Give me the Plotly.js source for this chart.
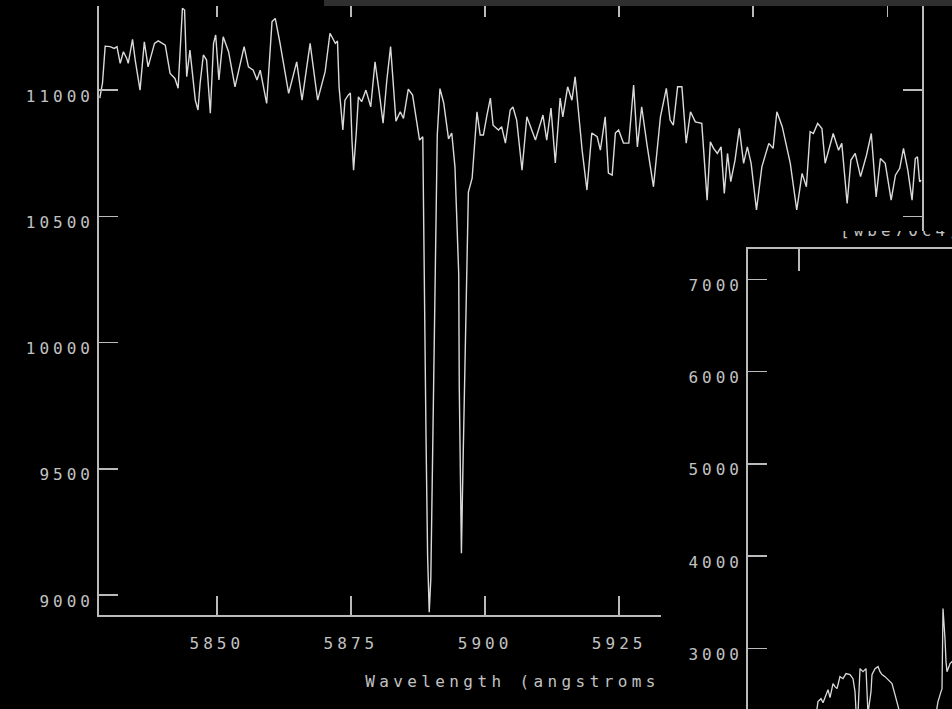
<!DOCTYPE html>
<html>
<head>
<meta charset="utf-8">
<script src="https://cdn.plot.ly/plotly-3.0.1.min.js"></script>
<style>
  html, body { margin:0; padding:0; background:#000; width:952px; height:709px; overflow:hidden; }
  #main { position:absolute; left:0; top:0; width:952px; height:709px; z-index:1; }
  #bar { position:absolute; left:324px; top:0; width:628px; height:6px; background:#2f2f2f; z-index:5; }
  #insetWin { position:absolute; left:661px; top:231px; width:291px; height:478px; overflow:hidden; background:#000; z-index:4; }
  #inset { position:absolute; left:0; top:0; width:697px; height:714px; }
  svg text { letter-spacing:4px; }
  .g-xtitle text { letter-spacing:4.4px; }
  #main .g-xtitle { transform: translate(9px, 0px); }
</style>
</head>
<body>
<div id="main"></div>
<div id="bar"></div>
<div id="insetWin"><div id="inset"></div></div>
<script>
// ---- main spectrum (Na D region) ----
const wavelength = [
5828.2,5828.7,5829.2,5830.1,5830.9,5831.4,5832.0,5832.6,5833.2,5833.5,5834.3,5834.8,5835.7,5836.5,5837.2,5838.4,
5839.1,5840.4,5841.3,5842.2,5842.8,5843.6,5844.0,5844.4,5845.0,5845.5,5846.0,5846.5,5846.9,5847.5,5848.1,5848.8,
5849.4,5849.8,5850.4,5851.2,5852.2,5853.4,5855.1,5855.9,5856.8,5857.5,5858.1,5859.3,5860.3,5860.9,5861.8,5863.4,
5864.9,5865.9,5867.4,5868.8,5870.2,5871.1,5872.1,5872.5,5872.8,5873.5,5873.9,5874.5,5874.9,5875.2,5875.5,5876.0,
5876.4,5877.0,5877.8,5878.7,5879.5,5880.3,5881.0,5881.7,5882.4,5883.4,5884.2,5884.8,5885.7,5886.5,5887.8,5888.4,
5888.5,5888.7,5889.0,5889.3,5889.6,5889.9,5890.4,5890.7,5891.1,5891.6,5892.3,5893.2,5893.8,5894.4,5895.1,5895.2,
5895.5,5895.6,5895.9,5896.5,5896.9,5897.6,5898.5,5899.1,5899.7,5900.3,5901.0,5901.5,5902.5,5903.1,5903.8,5904.7,
5905.2,5905.9,5906.9,5907.8,5909.4,5910.8,5911.5,5912.3,5913.1,5914.0,5914.5,5915.4,5916.2,5916.8,5917.2,5918.1,
5919.0,5919.9,5920.9,5921.5,5922.4,5923.0,5923.7,5924.3,5924.9,5925.8,5926.8,5927.7,5928.4,5929.2,5930.2,5931.4,
5932.7,5933.8,5934.5,5935.1,5935.9,5936.7,5937.5,5938.3,5939.2,5940.4,5941.4,5942.0,5942.6,5943.3,5944.0,5944.6,
5945.2,5945.8,5946.6,5947.4,5948.2,5948.9,5949.6,5950.6,5951.6,5952.9,5953.7,5954.4,5955.4,5956.9,5958.1,5959.1,
5959.9,5960.6,5961.2,5962.0,5962.8,5963.4,5964.9,5965.9,5966.5,5967.5,5968.2,5969.0,5970.0,5971.1,5972.0,5972.9,
5973.7,5974.6,5975.7,5976.5,5977.3,5978.0,5978.8,5979.6,5980.2,5980.6,5981.0,5981.3
];
const flux = [
10968,11028,11174,11172,11165,11172,11106,11152,11126,11106,11201,11119,11000,11191,11092,11185,
11195,11178,11066,11046,11007,11324,11317,11053,11158,11059,10960,10921,11027,11139,11119,10908,
11185,11218,11040,11211,11152,11013,11172,11092,11079,11040,11079,10947,11271,11284,11185,10987,
11112,10960,11185,10960,11073,11225,11185,11194,11012,10842,10960,10980,10988,10802,10683,10830,
10973,10954,11000,10934,11112,10988,10869,11040,11172,10877,10914,10888,11004,10980,10802,10815,
10581,10101,9633,9154,8932,9067,9776,10243,10822,11006,10949,10807,10830,10695,10271,9831,
9393,9166,9520,10185,10596,10651,10914,10822,10822,10894,10968,10861,10842,10855,10790,10921,
10933,10881,10683,10894,10802,10901,10802,10929,10711,10968,10894,11013,10960,11053,10960,10762,
10604,10830,10815,10762,10894,10671,10663,10830,10842,10790,10790,11020,10775,10934,10782,10617,
10894,11007,10881,10861,11013,11013,10790,10914,10874,10868,10564,10795,10769,10749,10775,10591,
10749,10637,10723,10848,10710,10775,10710,10525,10696,10789,10769,10914,10855,10710,10525,10670,
10617,10835,10828,10868,10848,10710,10828,10762,10789,10551,10723,10749,10657,10742,10828,10577,
10729,10710,10564,10663,10690,10769,10683,10564,10729,10736,10637,10643
];
const xTicks = [5850, 5875, 5900, 5925, 5950, 5975];
const yTicks = [9000, 9500, 10000, 10500, 11000];
const xTitle = 'Wavelength (angstroms)';

// ---- inset window spectrum ----
const insetWavelength = [
3807.8,3964.7,4043.2,4069.4,4074.5,4086.3,4094.2,4105.9,4113.8,4121.6,4133.4,4141.2,4149.1,4160.8,4172.6,4184.4,
4200.0,4211.8,4219.7,4223.6,4231.4,4239.3,4251.0,4262.8,4266.7,4270.6,4282.4,4286.3,4298.1,4309.9,4317.7,4325.5,
4337.3,4345.2,4356.9,4364.8,4376.5,4388.3,4396.1,4435.4,4494.2,4537.3,4545.2,4557.0,4560.9,4564.8,4568.7,4572.6,
4576.6,4580.5,4588.3,4592.2,4600.1,4631.5,4788.0
];
const insetFlux = [
1771,1988,2151,2324,2422,2454,2411,2509,2552,2465,2617,2585,2563,2693,2671,2726,
2715,2671,2530,2324,2292,2780,2747,2780,2530,2292,2530,2715,2780,2802,2747,2715,
2693,2671,2639,2617,2498,2389,2292,1988,1934,2292,2422,2530,2563,3431,3290,3105,
2856,2747,2802,2834,2856,2800,2900
];
const insetXTicks = [4000, 5000, 6000];
const insetYTicks = [0, 1000, 2000, 3000, 4000, 5000, 6000, 7000];
const insetTitle = '[wbe70c4]';

const FONT = 'DejaVu Sans Mono';
const FS = 16;
const AX = '#bababa';
const TXT = '#c2c2c2';
const LINE = '#dadada';

Plotly.newPlot('main', [
  { x: wavelength, y: flux, type: 'scatter', mode: 'lines',
    line: { color: LINE, width: 1.4 }, hoverinfo: 'skip' },
  { x: wavelength, y: flux, xaxis: 'x2', type: 'scatter', mode: 'lines',
    line: { color: 'rgba(0,0,0,0)', width: 0 }, hoverinfo: 'skip' }
], {
  width: 952, height: 709,
  paper_bgcolor: '#000', plot_bgcolor: '#000',
  margin: { l: 99, r: 30, t: 6, b: 94, pad: 0 },
  showlegend: false,
  font: { family: FONT, size: FS, color: TXT },
  xaxis: {
    range: [5828.05, 5981.45], tickmode: 'array', tickvals: xTicks, ticktext: xTicks.map(String),
    ticks: 'inside', ticklen: 19, tickwidth: 1.6, tickcolor: AX,
    showline: true, linecolor: AX, linewidth: 1.8, mirror: false,
    showgrid: false, zeroline: false, ticklabelstandoff: 13,
    tickfont: { family: FONT, size: FS, color: TXT },
    title: { text: xTitle, standoff: 24, font: { family: FONT, size: FS, color: TXT } }
  },
  xaxis2: {
    overlaying: 'x', side: 'top', anchor: 'y', matches: 'x',
    range: [5828.05, 5981.45], tickmode: 'array', tickvals: xTicks,
    ticks: 'inside', ticklen: 11, tickwidth: 1.6, tickcolor: AX,
    showticklabels: false, showline: false, showgrid: false, zeroline: false
  },
  yaxis: {
    range: [8921, 11333], tickmode: 'array', tickvals: yTicks, ticktext: yTicks.map(String),
    ticks: 'inside', ticklen: 19, tickwidth: 1.6, tickcolor: AX,
    showline: true, linecolor: AX, linewidth: 1.8, mirror: 'ticks',
    showgrid: false, zeroline: false, ticklabelshift: 6, ticklabelstandoff: 0,
    tickfont: { family: FONT, size: FS, color: TXT }
  }
}, { staticPlot: true, displayModeBar: false });

Plotly.newPlot('inset', [
  { x: insetWavelength, y: insetFlux, type: 'scatter', mode: 'lines',
    line: { color: LINE, width: 1.3 }, hoverinfo: 'skip' }
], {
  width: 697, height: 714,
  paper_bgcolor: '#000', plot_bgcolor: '#000',
  margin: { l: 87, r: 10, t: 18, b: 20, pad: 0 },
  showlegend: false,
  font: { family: FONT, size: FS, color: TXT },
  xaxis: {
    range: [3800, 6153.2], tickmode: 'array', tickvals: insetXTicks, ticktext: insetXTicks.map(String),
    ticks: 'inside', ticklen: 22, tickwidth: 1.6, tickcolor: AX,
    showline: true, linecolor: AX, linewidth: 1.8, mirror: 'ticks',
    showgrid: false, zeroline: false, tickfont: { family: FONT, size: FS, color: TXT }
  },
  yaxis: {
    range: [0, 7330], tickmode: 'array', tickvals: insetYTicks, ticktext: insetYTicks.map(String),
    ticks: 'inside', ticklen: 19, tickwidth: 1.6, tickcolor: AX,
    showline: true, linecolor: AX, linewidth: 1.8, mirror: 'ticks',
    showgrid: false, zeroline: false, ticklabelshift: 6, ticklabelstandoff: 0,
    tickfont: { family: FONT, size: FS, color: TXT }
  },
  annotations: [{
    text: insetTitle, xref: 'paper', yref: 'paper', x: 0.15, y: 1.011,
    xanchor: 'left', yanchor: 'bottom', showarrow: false,
    font: { family: FONT, size: FS, color: TXT }
  }]
}, { staticPlot: true, displayModeBar: false });
</script>
</body>
</html>
